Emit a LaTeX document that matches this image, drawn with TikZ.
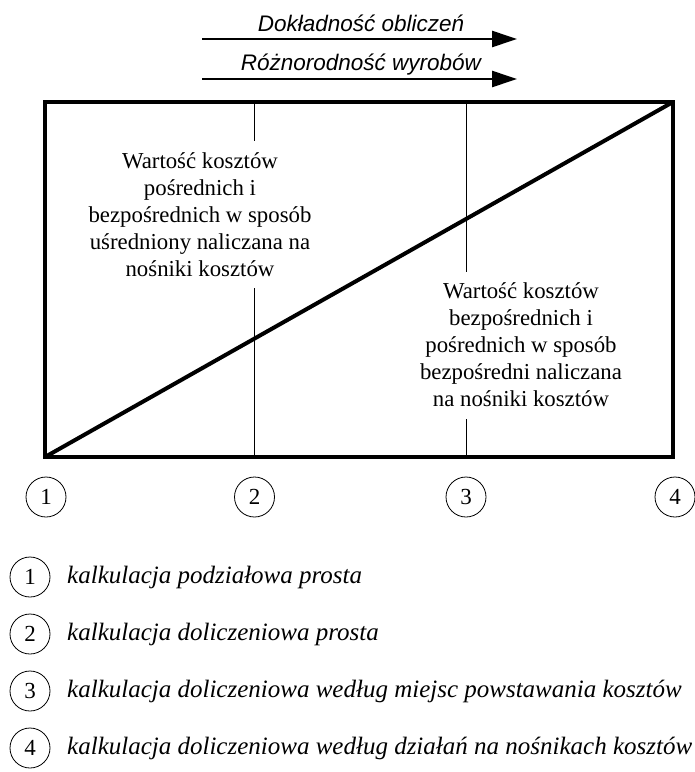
\documentclass[tikz,border=0pt]{standalone}
\usepackage{fontspec}
\setmainfont{Liberation Serif}
\newfontfamily\arrowfont{Liberation Sans}
\usetikzlibrary{arrows.meta}
\tikzset{
  frame/.style={line width=4pt, line join=miter},
  divider/.style={line width=0.9pt},
  trend/.style={line width=2.6pt, -{Triangle[length=25pt,width=16pt]}},
  trendlabel/.style={font=\arrowfont\itshape\fontsize{22.5}{26}\selectfont, inner sep=0pt},
  areatext/.style={align=center, font=\fontsize{22.8}{27}\selectfont, inner sep=0pt},
  marker/.style={circle, draw, line width=0.8pt, minimum size=40pt, inner sep=0pt, font=\fontsize{23}{26}\selectfont},
  legendtext/.style={anchor=west, inner sep=0pt, font=\itshape\fontsize{25}{28}\selectfont}
}
\begin{document}
\begin{tikzpicture}[x=1pt, y=-1pt]
\useasboundingbox (0,0) rectangle (695,772);

% trend arrows above the chart
\coordinate (a1s) at (202,39);
\coordinate (a1e) at (517,39);
\coordinate (a2s) at (202,79);
\coordinate (a2e) at (517,79);
\draw[trend] (a1s) -- (a1e);
\draw[trend] (a2s) -- (a2e);
\node[trendlabel, anchor=base] (t1) at (361,31) {Dokładność obliczeń};
\node[trendlabel, anchor=base] (t2) at (361,70) {Różnorodność wyrobów};

% chart frame and its corners
\coordinate (bl) at (45,457);
\coordinate (br) at (673,457);
\coordinate (tr) at (673,102);
\coordinate (tl) at (45,102);

% area descriptions
\node[areatext] (d1) at (200,215) {Wartość kosztów\\pośrednich i\\bezpośrednich w sposób\\uśredniony naliczana na\\nośniki kosztów};
\node[areatext] (d2) at (521,345) {Wartość kosztów\\bezpośrednich i\\pośrednich w sposób\\bezpośredni naliczana\\na nośniki kosztów};

% dividing lines, interrupted by the descriptions
\coordinate (v1t) at (254,102);
\coordinate (v1a) at (254,141);
\coordinate (v1b) at (254,288);
\coordinate (v1d) at (254,457);
\coordinate (v2t) at (466,102);
\coordinate (v2a) at (466,272);
\coordinate (v2b) at (466,419);
\coordinate (v2d) at (466,457);
\draw[divider] (v1t) -- (v1a) (v1b) -- (v1d);
\draw[divider] (v2t) -- (v2a) (v2b) -- (v2d);

\draw[frame] (tl) -- (tr) -- (br) -- (bl) -- cycle;
\draw[frame, line cap=round] (bl) -- (tr);

% scale markers under the chart
\node[marker] (m1) at (46,497) {1};
\node[marker] (m2) at (254.5,497) {2};
\node[marker] (m3) at (466,497) {3};
\node[marker] (m4) at (675,497) {4};

% legend
\node[marker] (l1) at (30,577) {1};
\node[marker] (l2) at (30,634) {2};
\node[marker] (l3) at (30,691) {3};
\node[marker] (l4) at (30,748) {4};
\node[legendtext] (lt1) at (67,577) {kalkulacja podziałowa prosta};
\node[legendtext] (lt2) at (67,634) {kalkulacja doliczeniowa prosta};
\node[legendtext] (lt3) at (67,691) {kalkulacja doliczeniowa według miejsc powstawania kosztów};
\node[legendtext] (lt4) at (67,748) {kalkulacja doliczeniowa według działań na nośnikach kosztów};
\end{tikzpicture}
\end{document}
